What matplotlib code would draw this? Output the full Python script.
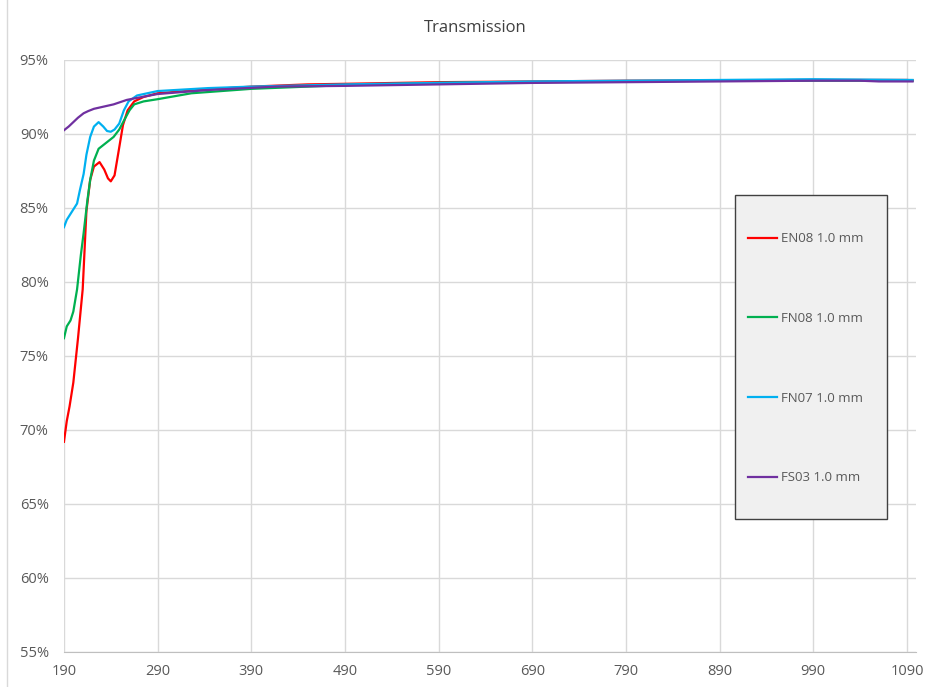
import numpy as np
import matplotlib.pyplot as plt
from matplotlib.ticker import FuncFormatter
from matplotlib.patches import Rectangle
from matplotlib.lines import Line2D

# wavelength (nm) / transmission (%)
en08_x = [190, 193, 196, 200, 205, 210, 214, 218, 222, 228, 233, 237, 240, 244, 248, 253, 258, 265, 275, 290, 340, 390, 450, 500, 590, 690, 790, 890, 990, 1090, 1096]
en08_y = [69.2, 70.6, 71.6, 73.2, 76.2, 79.5, 84.8, 86.9, 87.8, 88.1, 87.6, 87.0, 86.8, 87.2, 88.7, 90.6, 91.6, 92.2, 92.5, 92.75, 93.0, 93.2, 93.35, 93.4, 93.5, 93.55, 93.6, 93.62, 93.65, 93.65, 93.62]

fn08_x = [190, 193, 197, 200, 204, 208, 211, 215, 218, 222, 227, 235, 243, 249, 254, 260, 265, 275, 290, 326, 390, 490, 590, 690, 890, 1096]
fn08_y = [76.2, 77.0, 77.4, 78.0, 79.5, 81.8, 83.3, 85.5, 86.9, 88.2, 89.0, 89.4, 89.8, 90.3, 90.9, 91.6, 92.0, 92.2, 92.35, 92.75, 93.05, 93.3, 93.45, 93.5, 93.6, 93.6]

fn07_x = [190, 193, 197, 200, 204, 207, 211, 214, 218, 222, 227, 232, 236, 240, 244, 249, 254, 259, 268, 290, 344, 390, 490, 590, 690, 890, 990, 1096]
fn07_y = [83.7, 84.2, 84.6, 84.9, 85.3, 86.2, 87.3, 88.6, 89.8, 90.5, 90.8, 90.5, 90.2, 90.15, 90.3, 90.7, 91.6, 92.2, 92.6, 92.9, 93.1, 93.2, 93.35, 93.45, 93.55, 93.65, 93.7, 93.65]

fs03_x = [190, 195, 200, 205, 211, 216, 222, 229, 236, 243, 250, 257, 265, 290, 344, 416, 490, 590, 690, 790, 890, 990, 1040, 1060, 1096]
fs03_y = [90.25, 90.5, 90.8, 91.1, 91.4, 91.55, 91.7, 91.8, 91.9, 92.0, 92.15, 92.3, 92.4, 92.7, 92.97, 93.2, 93.25, 93.35, 93.45, 93.5, 93.55, 93.6, 93.6, 93.55, 93.55]

series = [
    ("EN08 1.0 mm", en08_x, en08_y, "#ff0000"),
    ("FN08 1.0 mm", fn08_x, fn08_y, "#00b050"),
    ("FN07 1.0 mm", fn07_x, fn07_y, "#00b0f0"),
    ("FS03 1.0 mm", fs03_x, fs03_y, "#7030a0"),
]

x_ticks = list(range(190, 1091, 100))
y_ticks = list(range(55, 96, 5))

plt.rcParams['font.family'] = ['Open Sans', 'DejaVu Sans']
txt = "#595959"

fig = plt.figure(figsize=(9.35, 6.87), dpi=100)
ax = fig.add_axes([0.0684, 0.051, 0.9116, 0.8617])

for label, xs, ys, col in series:
    ax.plot(xs, ys, color=col, lw=1.6, label=label)

ax.set_xlim(190, 1100)
ax.set_ylim(55, 95)
ax.set_xticks(x_ticks)
ax.set_yticks(y_ticks)
ax.yaxis.set_major_formatter(FuncFormatter(lambda v, p: f"{v:.0f}%"))
ax.grid(True, color="#d9d9d9", lw=1)
ax.set_axisbelow(True)
ax.tick_params(length=0, labelsize=10.5, colors=txt)
ax.tick_params(axis="y", pad=11)
ax.tick_params(axis="x", pad=9)
for s in ["top", "right", "left"]:
    ax.spines[s].set_visible(False)
ax.spines["bottom"].set_color("#bfbfbf")

fig.text(0.508, 0.959, "Transmission", ha="center", va="center", fontsize=12, color="#404040")

# faint outer chart border on the left
fig.add_artist(Line2D([0.008, 0.008], [0, 1], transform=fig.transFigure, color="#d9d9d9", lw=1))

# legend box (drawn separately so padding can match the reference)
box = Rectangle((0.7876, 0.2247), 0.1784, 0.5473, transform=ax.transAxes,
                facecolor="#f0f0f0", edgecolor="#404040", lw=1.0, zorder=4)
ax.add_patch(box)
leg = ax.legend(loc="upper left", bbox_to_anchor=(0.803, 0.709), frameon=False,
                fontsize=9.5, labelspacing=5.05, borderpad=0, handlelength=2.2,
                handletextpad=0.3, borderaxespad=0)
leg.set_zorder(5)
for t in leg.get_texts():
    t.set_color(txt)

fig.savefig("out.png", dpi=100)
